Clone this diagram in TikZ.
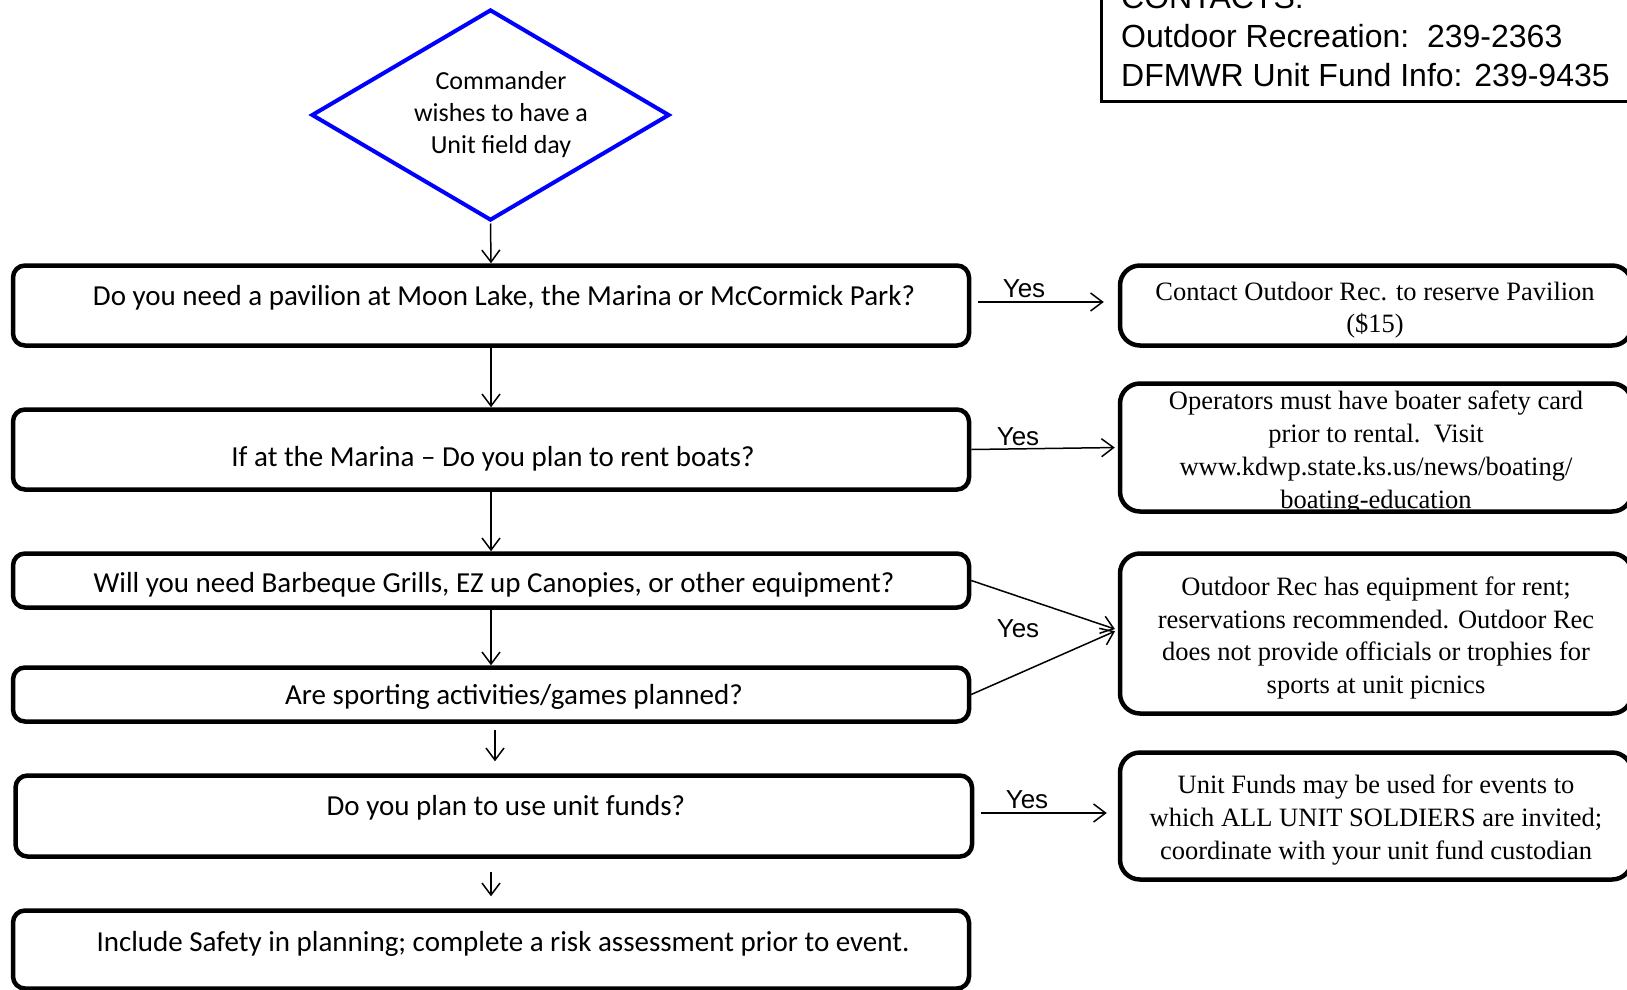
\documentclass[tikz,border=0pt]{standalone}
\usepackage{fontspec}
\setmainfont{Liberation Serif}
\newfontfamily\calfont{Carlito}
\newfontfamily\arialfont{Liberation Sans}
\usetikzlibrary{arrows.meta,shapes.geometric}

\begin{document}
\begin{tikzpicture}[x=1pt,y=-1pt,
  qbox/.style={draw, line width=4.5pt, rounded corners=12pt, inner sep=0pt},
  abox/.style={draw, line width=4.5pt, rounded corners=20pt, inner sep=0pt,
               minimum width=512pt},
  qtext/.style={font=\calfont\fontsize{29}{34}\selectfont, inner sep=0pt},
  atext/.style={font=\fontsize{26.5}{32.7}\selectfont, align=center, inner sep=0pt},
  yeslbl/.style={font=\arialfont\fontsize{26}{30}\selectfont, inner sep=0pt},
  ctext/.style={font=\arialfont\fontsize{32}{38}\selectfont, anchor=base west, inner sep=0pt},
  arr/.style={line width=1.5pt, -{Straight Barb[length=12pt,width=18pt,line width=1.5pt]}}]
\useasboundingbox (0,0) rectangle (1627,990);
\clip (0,0) rectangle (1627,990);
\fill[white] (0,0) rectangle (1627,990);

% start decision
\node[draw=blue, line width=4pt, diamond, inner sep=0pt,
      minimum width=358pt, minimum height=211pt] (start) at (490.5,115) {};
\node[font=\calfont\fontsize{26}{32}\selectfont, align=center, inner sep=0pt]
  (starttxt) at (501,115) {Commander\\wishes to have a\\Unit field day};

% question boxes (left column)
\node[qbox, minimum width=956pt, minimum height=80pt] (q1) at (491,305.5) {};
\node[qbox, minimum width=956pt, minimum height=80pt] (q2) at (491,449.5) {};
\node[qbox, minimum width=956pt, minimum height=54pt] (q3) at (491,580.5) {};
\node[qbox, minimum width=956pt, minimum height=54pt] (q4) at (491,694.5) {};
\node[qbox, minimum width=956.5pt, minimum height=81pt] (q5) at (493.75,816) {};
\node[qbox, minimum width=956pt, minimum height=78pt] (q6) at (491,949.5) {};

\node[qtext] (q1txt) at (504,298) {Do you need a pavilion at Moon Lake, the Marina or McCormick Park?};
\node[qtext] (q2txt) at (493,459) {If at the Marina – Do you plan to rent boats?};
\node[qtext] (q3txt) at (494,585) {Will you need Barbeque Grills, EZ up Canopies, or other equipment?};
\node[qtext] (q4txt) at (514,697) {Are sporting activities/games planned?};
\node[qtext] (q5txt) at (506,808) {Do you plan to use unit funds?};
\node[qtext] (q6txt) at (503,944) {Include Safety in planning; complete a risk assessment prior to event.};

% answer boxes (right column)
\node[abox, minimum height=80pt] (r1) at (1376,305.5) {};
\node[abox, minimum height=128pt] (r2) at (1376,447.5) {};
\node[abox, minimum height=160pt] (r3) at (1376,633.5) {};
\node[abox, minimum height=127pt] (r4) at (1376,816) {};

\node[atext] (r1txt) at (1375,310) {Contact Outdoor Rec. to reserve Pavilion\\(\$15)};
\node[atext] (r2txt) at (1376,452.5) {Operators must have boater safety card\\prior to rental.\ \ Visit\\www.kdwp.state.ks.us/news/boating/\\boating-education};
\node[atext] (r3txt) at (1376,638) {Outdoor Rec has equipment for rent;\\reservations recommended. Outdoor Rec\\does not provide officials or trophies for\\sports at unit picnics};
\node[atext] (r4txt) at (1376,820) {Unit Funds may be used for events to\\which ALL UNIT SOLDIERS are invited;\\coordinate with your unit fund custodian};

% contacts panel
\node[draw, line width=3pt, minimum width=538.5pt, minimum height=161.5pt, inner sep=0pt]
  (contacts) at (1370.75,20.75) {};
\node[ctext] (c1) at (1121,9) {CONTACTS:};
\node[ctext] (c2) at (1121,47.5) {Outdoor Recreation:\ \ 239-2363};
\node[ctext] (c3) at (1121,86.5) {DFMWR Unit Fund Info: 239-9435};

% main flow
\draw[arr, shorten <=1pt] (start.south) -- (q1.north);
\draw[arr] (q1.south) -- (q2.north);
\draw[arr] (q2.south) -- (q3.north);
\draw[arr] (q3.south) -- (q4.north);
\draw[arr, shorten <=6pt, shorten >=12pt] ([xshift=4pt]q4.south) -- ([xshift=4pt]q4.south |- q5.north);
\draw[arr, shorten <=13pt, shorten >=12pt] (q5.south -| q6.north) -- (q6.north);

% yes branches
\draw[arr, shorten <=7pt, shorten >=14pt] ([yshift=3.5pt]q1.east) -- ([yshift=3.5pt]q1.east -| r1.west);
\draw[arr, shorten >=3pt] (q2.east) -- (r2.west);
\draw[arr, shorten >=3pt] (q3.east) -- ([yshift=3.5pt]r3.west);
\draw[arr, shorten >=3pt] (q4.east) -- ([yshift=3.5pt]r3.west);
\draw[arr, shorten <=7pt, shorten >=11pt] ([yshift=3pt]q5.east) -- ([yshift=3pt]q5.east -| r4.west);

\node[yeslbl] (y1) at (1024,289) {Yes};
\node[yeslbl] (y2) at (1018,437) {Yes};
\node[yeslbl] (y3) at (1018,629) {Yes};
\node[yeslbl] (y4) at (1027,800) {Yes};
\end{tikzpicture}
\end{document}
